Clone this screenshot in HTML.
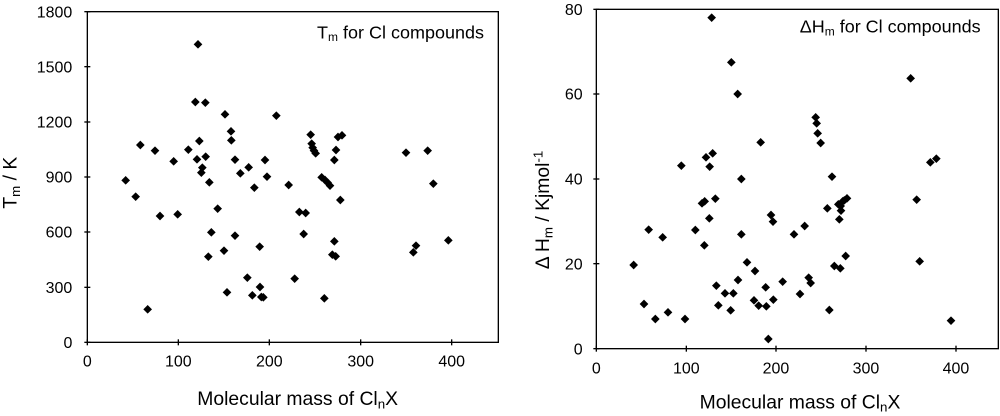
<!DOCTYPE html>
<html><head><meta charset="utf-8"><style>
html,body{margin:0;padding:0;background:#fff;}
svg{display:block;font-family:"Liberation Sans",Arial,sans-serif;}
</style></head><body>
<svg width="1000" height="416" viewBox="0 0 1000 416" xmlns="http://www.w3.org/2000/svg">
<defs><path id="d" d="M0,-13 L13,0 L0,13 L-13,0Z" fill="#000"/></defs>
<g transform="scale(0.3333333)">
<rect x="262" y="35" width="1233" height="992" fill="none" stroke="#000" stroke-width="4"/>
<g stroke="#000" stroke-width="4">
<line x1="253" y1="1027" x2="271" y2="1027"/><line x1="253" y1="862" x2="271" y2="862"/><line x1="253" y1="696" x2="271" y2="696"/><line x1="253" y1="531" x2="271" y2="531"/><line x1="253" y1="366" x2="271" y2="366"/><line x1="253" y1="200" x2="271" y2="200"/><line x1="253" y1="35" x2="271" y2="35"/>
<line x1="262" y1="1018" x2="262" y2="1036"/><line x1="535" y1="1018" x2="535" y2="1036"/><line x1="808" y1="1018" x2="808" y2="1036"/><line x1="1082" y1="1018" x2="1082" y2="1036"/><line x1="1355" y1="1018" x2="1355" y2="1036"/>
</g>
<g font-size="48" text-anchor="end">
<text x="217" y="1044">0</text><text x="217" y="879">300</text><text x="217" y="713">600</text><text x="217" y="548">900</text><text x="217" y="383">1200</text><text x="217" y="217">1500</text><text x="217" y="52">1800</text>
</g>
<g font-size="48" text-anchor="middle">
<text x="262" y="1100">0</text><text x="535" y="1100">100</text><text x="808" y="1100">200</text><text x="1082" y="1100">300</text><text x="1355" y="1100">400</text>
</g>
<text x="893" y="1215" font-size="58" text-anchor="middle">Molecular mass of Cl<tspan font-size="40" dy="10">n</tspan><tspan dy="-10">X</tspan></text>
<text transform="translate(50,548) rotate(-90)" font-size="58" text-anchor="middle">T<tspan font-size="40" dy="10">m</tspan><tspan dy="-10"> / K</tspan></text>
<text x="1452" y="115" font-size="54" text-anchor="end">T<tspan font-size="36" dy="8">m</tspan><tspan dy="-8"> for Cl compounds</tspan></text>
<g>
<use href="#d" x="377" y="541"/><use href="#d" x="407" y="590"/><use href="#d" x="421" y="435"/><use href="#d" x="443" y="928"/><use href="#d" x="465" y="452"/><use href="#d" x="480" y="648"/><use href="#d" x="521" y="484"/><use href="#d" x="533" y="643"/><use href="#d" x="565" y="449"/><use href="#d" x="591" y="478"/><use href="#d" x="598" y="423"/><use href="#d" x="586" y="306"/><use href="#d" x="594" y="133"/><use href="#d" x="616" y="308"/><use href="#d" x="607" y="503"/><use href="#d" x="604" y="518"/><use href="#d" x="617" y="470"/><use href="#d" x="628" y="547"/><use href="#d" x="634" y="697"/><use href="#d" x="625" y="770"/><use href="#d" x="653" y="626"/><use href="#d" x="672" y="752"/><use href="#d" x="681" y="877"/><use href="#d" x="675" y="343"/><use href="#d" x="693" y="394"/><use href="#d" x="694" y="421"/><use href="#d" x="705" y="479"/><use href="#d" x="705" y="707"/><use href="#d" x="721" y="520"/><use href="#d" x="746" y="502"/><use href="#d" x="742" y="833"/><use href="#d" x="757" y="886"/><use href="#d" x="763" y="563"/><use href="#d" x="779" y="740"/><use href="#d" x="780" y="861"/><use href="#d" x="784" y="891"/><use href="#d" x="790" y="892"/><use href="#d" x="795" y="480"/><use href="#d" x="801" y="530"/><use href="#d" x="829" y="347"/><use href="#d" x="866" y="555"/><use href="#d" x="884" y="836"/><use href="#d" x="898" y="636"/><use href="#d" x="917" y="639"/><use href="#d" x="911" y="702"/><use href="#d" x="932" y="404"/><use href="#d" x="935" y="431"/><use href="#d" x="938" y="443"/><use href="#d" x="942" y="452"/><use href="#d" x="947" y="460"/><use href="#d" x="965" y="532"/><use href="#d" x="975" y="540"/><use href="#d" x="983" y="548"/><use href="#d" x="990" y="557"/><use href="#d" x="973" y="895"/><use href="#d" x="1003" y="480"/><use href="#d" x="1008" y="450"/><use href="#d" x="1003" y="724"/><use href="#d" x="997" y="764"/><use href="#d" x="1007" y="769"/><use href="#d" x="1014" y="411"/><use href="#d" x="1026" y="406"/><use href="#d" x="1021" y="600"/><use href="#d" x="1218" y="458"/><use href="#d" x="1240" y="757"/><use href="#d" x="1248" y="737"/><use href="#d" x="1283" y="452"/><use href="#d" x="1300" y="551"/><use href="#d" x="1345" y="721"/>
</g>
</g>
<g transform="translate(500,0) scale(0.3333333)">
<rect x="289" y="28" width="1206" height="1018" fill="none" stroke="#000" stroke-width="4"/>
<g stroke="#000" stroke-width="4">
<line x1="280" y1="1046" x2="298" y2="1046"/><line x1="280" y1="791" x2="298" y2="791"/><line x1="280" y1="537" x2="298" y2="537"/><line x1="280" y1="282" x2="298" y2="282"/><line x1="280" y1="28" x2="298" y2="28"/>
<line x1="289" y1="1037" x2="289" y2="1055"/><line x1="559" y1="1037" x2="559" y2="1055"/><line x1="828" y1="1037" x2="828" y2="1055"/><line x1="1098" y1="1037" x2="1098" y2="1055"/><line x1="1368" y1="1037" x2="1368" y2="1055"/>
</g>
<g font-size="48" text-anchor="end">
<text x="248" y="1063">0</text><text x="248" y="808">20</text><text x="248" y="554">40</text><text x="248" y="299">60</text><text x="248" y="45">80</text>
</g>
<g font-size="48" text-anchor="middle">
<text x="289" y="1120">0</text><text x="559" y="1120">100</text><text x="828" y="1120">200</text><text x="1098" y="1120">300</text><text x="1368" y="1120">400</text>
</g>
<text x="900" y="1225" font-size="58" text-anchor="middle">Molecular mass of Cl<tspan font-size="40" dy="10">n</tspan><tspan dy="-10">X</tspan></text>
<text transform="translate(147,630) rotate(-90)" font-size="58" text-anchor="middle">Δ H<tspan font-size="40" dy="10">m</tspan><tspan dy="-10"> / Kjmol</tspan><tspan font-size="40" dy="-20">-1</tspan></text>
<text x="1442" y="98" font-size="54" text-anchor="end">ΔH<tspan font-size="36" dy="8">m</tspan><tspan dy="-8"> for Cl compounds</tspan></text>
<g>
<use href="#d" x="401" y="795"/><use href="#d" x="432" y="912"/><use href="#d" x="446" y="689"/><use href="#d" x="466" y="957"/><use href="#d" x="488" y="712"/><use href="#d" x="504" y="937"/><use href="#d" x="544" y="497"/><use href="#d" x="555" y="957"/><use href="#d" x="586" y="690"/><use href="#d" x="606" y="610"/><use href="#d" x="613" y="736"/><use href="#d" x="614" y="604"/><use href="#d" x="618" y="472"/><use href="#d" x="628" y="655"/><use href="#d" x="629" y="500"/><use href="#d" x="635" y="53"/><use href="#d" x="638" y="460"/><use href="#d" x="646" y="596"/><use href="#d" x="649" y="857"/><use href="#d" x="655" y="916"/><use href="#d" x="675" y="880"/><use href="#d" x="692" y="931"/><use href="#d" x="700" y="880"/><use href="#d" x="694" y="187"/><use href="#d" x="713" y="282"/><use href="#d" x="714" y="840"/><use href="#d" x="724" y="537"/><use href="#d" x="724" y="703"/><use href="#d" x="741" y="787"/><use href="#d" x="762" y="901"/><use href="#d" x="765" y="813"/><use href="#d" x="776" y="917"/><use href="#d" x="782" y="427"/><use href="#d" x="797" y="862"/><use href="#d" x="799" y="919"/><use href="#d" x="805" y="1017"/><use href="#d" x="813" y="645"/><use href="#d" x="819" y="665"/><use href="#d" x="820" y="899"/><use href="#d" x="848" y="845"/><use href="#d" x="882" y="703"/><use href="#d" x="900" y="882"/><use href="#d" x="914" y="678"/><use href="#d" x="926" y="833"/><use href="#d" x="932" y="849"/><use href="#d" x="947" y="352"/><use href="#d" x="950" y="370"/><use href="#d" x="953" y="400"/><use href="#d" x="962" y="429"/><use href="#d" x="982" y="625"/><use href="#d" x="988" y="930"/><use href="#d" x="996" y="530"/><use href="#d" x="1003" y="798"/><use href="#d" x="1015" y="613"/><use href="#d" x="1018" y="658"/><use href="#d" x="1021" y="805"/><use href="#d" x="1022" y="618"/><use href="#d" x="1023" y="632"/><use href="#d" x="1028" y="604"/><use href="#d" x="1033" y="601"/><use href="#d" x="1041" y="595"/><use href="#d" x="1037" y="768"/><use href="#d" x="1232" y="235"/><use href="#d" x="1250" y="599"/><use href="#d" x="1259" y="784"/><use href="#d" x="1291" y="487"/><use href="#d" x="1309" y="476"/><use href="#d" x="1353" y="962"/>
</g>
</g>
</svg>
</body></html>
